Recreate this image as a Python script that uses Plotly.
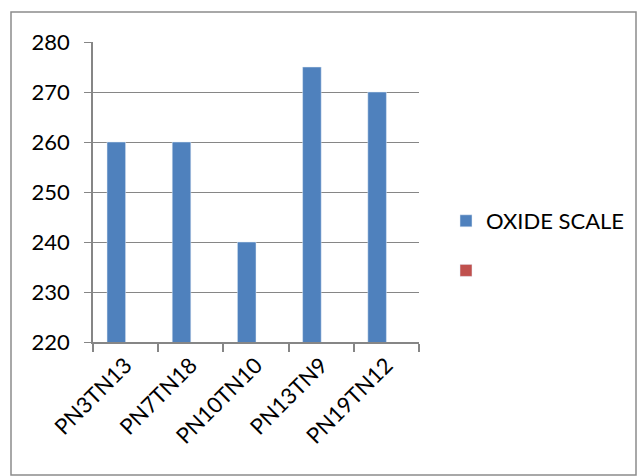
import plotly.graph_objects as go

categories = ["PN3TN13", "PN7TN18", "PN10TN10", "PN13TN9", "PN19TN12"]
oxide_scale = [260, 260, 240, 275, 270]
empty_series = [None, None, None, None, None]

W, H = 638, 476
L, R, T, B = 93, 419, 42, 342
pw, ph = R - L, B - T

fig = go.Figure()
fig.add_trace(go.Bar(x=categories, y=oxide_scale, name="OXIDE SCALE",
                     marker_color="#4F81BD", legendgroup="a"))
fig.add_trace(go.Bar(x=categories, y=empty_series, name=" ",
                     marker_color="#C0504D", legendgroup="b"))

font = dict(family="Lato, Carlito, Liberation Sans, sans-serif", size=22, color="#000000")

fig.update_layout(
    width=W, height=H,
    margin=dict(l=L, r=W - R, t=T, b=H - B, pad=0, autoexpand=False),
    paper_bgcolor="white", plot_bgcolor="white",
    barmode="group", bargap=0.43, bargroupgap=0,
    font=font,
    showlegend=True,
    legend=dict(x=(446 - L) / pw, y=(B - 246) / ph, xanchor="left", yanchor="middle",
                font=font, tracegroupgap=18, bgcolor="rgba(0,0,0,0)",
                traceorder="grouped", itemwidth=30),
    shapes=[dict(type="rect", xref="paper", yref="paper",
                 x0=(11 - L) / pw, x1=(636 - L) / pw,
                 y0=(B - 475) / ph, y1=(B - 12) / ph,
                 line=dict(color="#8c8c8c", width=1.5), fillcolor="rgba(0,0,0,0)",
                 layer="below")],
)
fig.update_xaxes(
    type="category", tickangle=-45, showgrid=False,
    showline=True, linecolor="#868686", linewidth=1.5,
    ticks="outside", tickson="boundaries", ticklen=8, tickcolor="#868686", tickwidth=1.5,
    tickfont=font,
)
fig.update_yaxes(
    range=[220, 280], dtick=10, tick0=220,
    showgrid=True, gridcolor="#868686", gridwidth=1,
    showline=True, linecolor="#868686", linewidth=1.5,
    ticks="outside", ticklen=7, tickcolor="#868686", tickwidth=1,
    ticklabelstandoff=10, tickfont=font, zeroline=False,
)

fig.write_html("out.html", config={"displayModeBar": False},
               post_script="document.body.style.margin='0';document.body.style.overflow='hidden';")
